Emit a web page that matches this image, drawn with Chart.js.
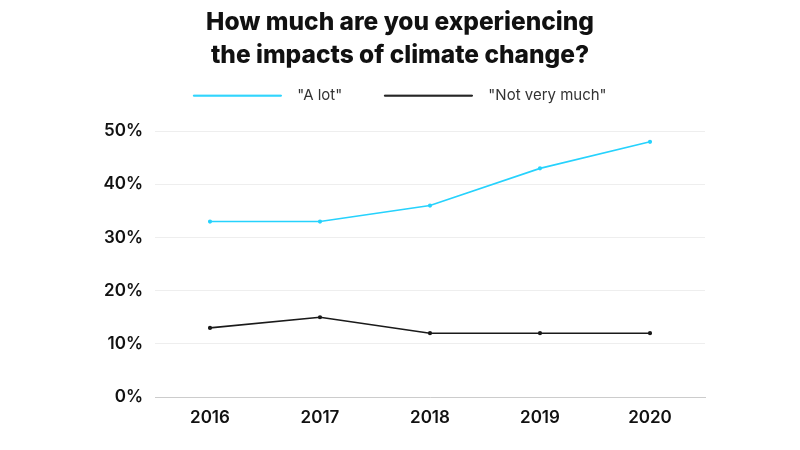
<!DOCTYPE html>
<html>
<head>
<meta charset="utf-8">
<script src="https://cdn.jsdelivr.net/npm/chart.js@4/dist/chart.umd.min.js"></script>
<style>
  html, body { margin: 0; padding: 0; background: #fff; }
  #wrap { width: 800px; height: 450px; position: relative; }
</style>
</head>
<body>
<div id="wrap"><canvas id="c"></canvas></div>
<script>
// values
const years = ['2016', '2017', '2018', '2019', '2020'];
const aLot = [33, 33, 36, 43, 48];
const notVeryMuch = [13, 15, 12, 12, 12];
const yTicks = [0, 10, 20, 30, 40, 50];

const cyan = '#26d2fd';
const dark = '#1a1a1a';
const font = 'Inter, "Noto Sans", sans-serif';

// extra room under the legend, chart.js has no option for it
const legendGap = {
  id: 'legendGap',
  afterInit(chart) {
    const legend = chart.legend;
    const fit = legend.fit.bind(legend);
    legend.fit = () => { fit(); legend.height += 18; };
  },
};

new Chart(document.getElementById('c'), {
  type: 'line',
  data: {
    labels: years,
    datasets: [
      {
        label: '"A lot"',
        data: aLot,
        borderColor: cyan,
        backgroundColor: cyan,
        borderWidth: 1.6,
        pointRadius: 1.3,
        pointHoverRadius: 3,
        tension: 0,
      },
      {
        label: '"Not very much"',
        data: notVeryMuch,
        borderColor: dark,
        backgroundColor: dark,
        borderWidth: 1.6,
        pointRadius: 1.3,
        pointHoverRadius: 3,
        tension: 0,
      },
    ],
  },
  plugins: [legendGap],
  options: {
    responsive: true,
    maintainAspectRatio: false,
    animation: false,
    layout: { padding: { left: 95, right: 95, top: 6, bottom: 0 } },
    plugins: {
      title: {
        display: true,
        text: ['How much are you experiencing', 'the impacts of climate change?'],
        color: '#111',
        font: { size: 24.5, weight: '800', family: font, lineHeight: 1.35 },
        padding: { top: 0, bottom: 16 },
      },
      legend: {
        labels: {
          color: '#333',
          font: { size: 15, family: font },
          boxWidth: 88,
          boxHeight: 1,
          padding: 0,
          generateLabels: (chart) =>
            Chart.defaults.plugins.legend.labels.generateLabels(chart).map((l, i) => {
              l.text = '  ' + l.text + (i === 0 ? '          ' : '');
              l.lineWidth = 1;
              return l;
            }),
        },
      },
      tooltip: { enabled: true },
    },
    scales: {
      x: {
        offset: true,
        grid: { display: false },
        border: { display: true, color: '#cccccc', width: 1 },
        ticks: { color: '#111', font: { size: 17, weight: '600', family: font }, padding: 3 },
        afterFit: (s) => { s.height = 53; },
      },
      y: {
        min: 0,
        max: 50,
        afterBuildTicks: (s) => { s.ticks = yTicks.map((v) => ({ value: v })); },
        grid: { color: '#eeeeee', drawTicks: false },
        border: { display: false },
        ticks: {
          color: '#111',
          font: { size: 17, weight: '600', family: font },
          padding: 12,
          callback: (v) => v + '%',
        },
        afterFit: (s) => { s.width = 60; },
      },
    },
  },
});
</script>
</body>
</html>
